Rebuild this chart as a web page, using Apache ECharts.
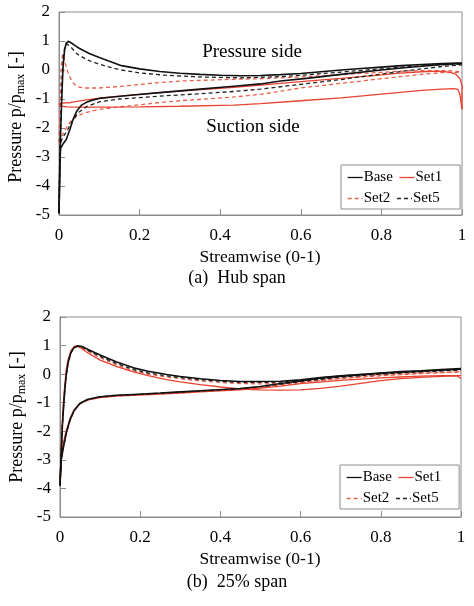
<!DOCTYPE html>
<html>
<head>
<meta charset="utf-8">
<script src="https://cdn.jsdelivr.net/npm/echarts@6/dist/echarts.min.js"></script>
<style>
  html, body { margin: 0; padding: 0; background: #fff; }
  #chart { width: 474px; height: 606px; }
</style>
</head>
<body>
<div id="chart"></div>
<script>
// axis ticks
const xTicks = [0, 0.2, 0.4, 0.6, 0.8, 1]
const yTicks = [-5, -4, -3, -2, -1, 0, 1, 2]
const seriesNames = ["Base", "Set1", "Set2", "Set5"]

// (a) Hub span: [streamwise, p/pmax], pressure side (ps) and suction side (ss)
const hubBasePs = [[0,-4.95],[0.002,-3.6],[0.004,-2.2],[0.007,-0.9],[0.01,0.1],[0.014,0.7],[0.018,0.93],[0.023,0.99],[0.03,0.94],[0.04,0.84],[0.05,0.75],[0.075,0.57],[0.1,0.43],[0.13,0.28],[0.155,0.15],[0.2,0.04],[0.25,-0.05],[0.3,-0.11],[0.35,-0.15],[0.4,-0.18],[0.45,-0.2],[0.5,-0.19],[0.55,-0.16],[0.6,-0.12],[0.65,-0.06],[0.7,0.0],[0.75,0.05],[0.8,0.1],[0.85,0.15],[0.9,0.19],[0.95,0.22],[0.99,0.24],[1,0.23]]
const hubBaseSs = [[0,-4.95],[0.002,-3.2],[0.004,-2.7],[0.01,-2.55],[0.018,-2.4],[0.027,-2.05],[0.035,-1.7],[0.044,-1.42],[0.055,-1.22],[0.07,-1.1],[0.085,-1.03],[0.1,-0.98],[0.14,-0.92],[0.184,-0.86],[0.25,-0.78],[0.3,-0.72],[0.35,-0.66],[0.434,-0.56],[0.5,-0.48],[0.55,-0.38],[0.62,-0.28],[0.7,-0.15],[0.8,0.0],[0.85,0.07],[0.9,0.13],[0.95,0.19],[1,0.23]]
const hubSet1Ps = [[0,-1.15],[0.01,-1.14],[0.03,-1.12],[0.06,-1.05],[0.1,-0.97],[0.15,-0.9],[0.2,-0.84],[0.25,-0.78],[0.3,-0.73],[0.434,-0.6],[0.5,-0.52],[0.6,-0.4],[0.7,-0.29],[0.8,-0.17],[0.846,-0.11],[0.9,-0.06],[0.94,-0.04],[0.97,-0.07],[0.985,-0.15],[0.995,-0.3],[1,-0.55],[1,-1.35]]
const hubSet1Ss = [[0,-1.15],[0.002,-1.24],[0.02,-1.27],[0.05,-1.28],[0.1,-1.28],[0.2,-1.27],[0.3,-1.25],[0.434,-1.21],[0.5,-1.16],[0.6,-1.06],[0.7,-0.96],[0.8,-0.83],[0.846,-0.77],[0.9,-0.7],[0.95,-0.66],[0.98,-0.64],[0.99,-0.67],[0.995,-0.85],[1,-1.35]]
const hubSet2Ps = [[0,-2.5],[0.003,-1.0],[0.006,0.2],[0.009,0.55],[0.012,0.45],[0.018,0.1],[0.025,-0.2],[0.035,-0.45],[0.045,-0.57],[0.06,-0.62],[0.1,-0.62],[0.15,-0.57],[0.2,-0.5],[0.25,-0.43],[0.3,-0.38],[0.434,-0.32],[0.5,-0.3],[0.6,-0.24],[0.7,-0.16],[0.8,-0.08],[0.85,-0.04],[0.9,-0.02],[0.95,-0.02],[0.98,-0.03],[1,-0.08]]
const hubSet2Ss = [[0,-2.5],[0.004,-2.35],[0.01,-2.2],[0.02,-1.95],[0.03,-1.75],[0.044,-1.6],[0.06,-1.5],[0.08,-1.42],[0.1,-1.36],[0.15,-1.27],[0.2,-1.2],[0.25,-1.12],[0.3,-1.06],[0.434,-0.93],[0.5,-0.84],[0.6,-0.62],[0.7,-0.46],[0.8,-0.3],[0.846,-0.23],[0.9,-0.15],[0.95,-0.09],[1,-0.08]]
const hubSet5Ps = [[0,-4.9],[0.002,-2.8],[0.005,-1.5],[0.008,-0.3],[0.011,0.5],[0.015,0.85],[0.02,0.9],[0.03,0.78],[0.045,0.55],[0.073,0.33],[0.1,0.2],[0.13,0.08],[0.155,0.0],[0.2,-0.1],[0.263,-0.18],[0.35,-0.24],[0.45,-0.27],[0.55,-0.23],[0.62,-0.16],[0.7,-0.07],[0.8,0.04],[0.85,0.1],[0.9,0.14],[0.95,0.18],[1,0.2]]
const hubSet5Ss = [[0,-4.9],[0.003,-2.6],[0.008,-2.35],[0.02,-2.1],[0.035,-1.7],[0.05,-1.45],[0.07,-1.25],[0.1,-1.1],[0.15,-1.0],[0.2,-0.95],[0.25,-0.9],[0.35,-0.82],[0.434,-0.74],[0.5,-0.66],[0.62,-0.46],[0.7,-0.33],[0.8,-0.14],[0.85,-0.05],[0.9,0.04],[0.95,0.12],[1,0.18]]

// (b) 25% span
const s25BasePs = [[0,-3.9],[0.003,-2.8],[0.006,-1.8],[0.01,-0.9],[0.015,-0.1],[0.02,0.4],[0.027,0.75],[0.035,0.93],[0.045,0.99],[0.055,0.97],[0.07,0.86],[0.1,0.67],[0.14,0.43],[0.183,0.22],[0.22,0.1],[0.266,-0.01],[0.3,-0.08],[0.35,-0.16],[0.4,-0.22],[0.449,-0.26],[0.5,-0.26],[0.55,-0.25],[0.6,-0.2],[0.65,-0.12],[0.7,-0.06],[0.765,0.0],[0.8,0.04],[0.85,0.09],[0.9,0.12],[0.95,0.16],[1,0.2]]
const s25BaseSs = [[0,-3.9],[0.003,-3.0],[0.008,-2.6],[0.015,-2.1],[0.025,-1.6],[0.035,-1.28],[0.05,-1.02],[0.07,-0.88],[0.1,-0.79],[0.14,-0.74],[0.183,-0.71],[0.25,-0.66],[0.3,-0.62],[0.35,-0.58],[0.449,-0.5],[0.5,-0.43],[0.55,-0.33],[0.6,-0.24],[0.65,-0.14],[0.7,-0.07],[0.8,0.03],[0.9,0.1],[1,0.17]]
const s25Set1Ps = [[0,-3.8],[0.003,-2.7],[0.006,-1.6],[0.01,-0.7],[0.015,0.1],[0.02,0.5],[0.028,0.84],[0.036,0.97],[0.042,0.99],[0.05,0.93],[0.07,0.74],[0.1,0.49],[0.14,0.27],[0.183,0.08],[0.22,-0.05],[0.266,-0.19],[0.3,-0.27],[0.35,-0.37],[0.4,-0.45],[0.449,-0.52],[0.5,-0.55],[0.55,-0.56],[0.6,-0.55],[0.65,-0.5],[0.7,-0.42],[0.75,-0.32],[0.8,-0.23],[0.85,-0.16],[0.9,-0.11],[0.95,-0.08],[0.99,-0.06],[1,-0.15]]
const s25Set1Ss = [[0,-3.8],[0.003,-3.0],[0.007,-2.5],[0.015,-2.0],[0.025,-1.55],[0.035,-1.25],[0.05,-1.02],[0.07,-0.9],[0.1,-0.82],[0.14,-0.77],[0.183,-0.74],[0.25,-0.7],[0.3,-0.66],[0.35,-0.62],[0.449,-0.55],[0.5,-0.49],[0.55,-0.42],[0.6,-0.33],[0.7,-0.22],[0.8,-0.13],[0.848,-0.1],[0.9,-0.07],[0.95,-0.05],[1,-0.05]]
const s25Set2Ps = [[0,-3.85],[0.003,-2.75],[0.006,-1.7],[0.01,-0.8],[0.015,0.0],[0.02,0.45],[0.027,0.78],[0.035,0.94],[0.042,0.98],[0.05,0.95],[0.07,0.8],[0.1,0.58],[0.14,0.33],[0.183,0.12],[0.22,0.0],[0.266,-0.1],[0.3,-0.16],[0.35,-0.24],[0.4,-0.29],[0.449,-0.33],[0.5,-0.34],[0.55,-0.33],[0.6,-0.28],[0.65,-0.22],[0.7,-0.16],[0.8,-0.06],[0.9,0.02],[0.95,0.05],[1,0.08]]
const s25Set2Ss = [[0,-3.85],[0.003,-3.0],[0.008,-2.6],[0.015,-2.1],[0.025,-1.6],[0.035,-1.28],[0.05,-1.04],[0.07,-0.9],[0.1,-0.81],[0.14,-0.76],[0.183,-0.72],[0.25,-0.68],[0.3,-0.64],[0.35,-0.6],[0.449,-0.52],[0.5,-0.46],[0.55,-0.38],[0.6,-0.3],[0.7,-0.14],[0.8,-0.03],[0.9,0.04],[1,0.08]]
const s25Set5Ps = [[0,-3.9],[0.003,-2.8],[0.006,-1.8],[0.01,-0.9],[0.015,-0.1],[0.02,0.4],[0.027,0.75],[0.035,0.92],[0.045,0.98],[0.055,0.95],[0.07,0.83],[0.1,0.62],[0.14,0.38],[0.183,0.16],[0.22,0.04],[0.266,-0.06],[0.3,-0.12],[0.35,-0.2],[0.4,-0.25],[0.449,-0.29],[0.5,-0.29],[0.55,-0.28],[0.6,-0.23],[0.65,-0.16],[0.7,-0.1],[0.8,0.0],[0.9,0.09],[0.95,0.12],[1,0.16]]
const s25Set5Ss = [[0,-3.9],[0.003,-3.0],[0.008,-2.6],[0.015,-2.1],[0.025,-1.6],[0.035,-1.28],[0.05,-1.02],[0.07,-0.88],[0.1,-0.8],[0.14,-0.75],[0.183,-0.72],[0.25,-0.67],[0.3,-0.63],[0.35,-0.59],[0.449,-0.51],[0.5,-0.44],[0.55,-0.35],[0.6,-0.26],[0.7,-0.1],[0.8,0.01],[0.9,0.08],[1,0.15]]

const serif = "'Liberation Serif', 'Times New Roman', serif"
const axisGrey = "#8c8c8c"

const lineStyles = {
  Base: { color: "#111111", width: 1.6, type: "solid" },
  Set1: { color: "#e8412f", width: 1.3, type: "solid" },
  Set2: { color: "#e8604c", width: 1.3, type: [4, 3] },
  Set5: { color: "#222222", width: 1.3, type: [4, 3] }
}

// draw order: red under black
const panels = [
  { Set2: [hubSet2Ps, hubSet2Ss], Set1: [hubSet1Ps, hubSet1Ss], Set5: [hubSet5Ps, hubSet5Ss], Base: [hubBasePs, hubBaseSs] },
  { Set2: [s25Set2Ps, s25Set2Ss], Set1: [s25Set1Ps, s25Set1Ss], Set5: [s25Set5Ps, s25Set5Ss], Base: [s25BasePs, s25BaseSs] }
]

const series = []
panels.forEach((panel, idx) => {
  Object.keys(panel).forEach(name => {
    panel[name].forEach(side => {
      series.push({
        name,
        type: "line",
        xAxisIndex: idx,
        yAxisIndex: idx,
        data: side,
        showSymbol: false,
        symbol: "none",
        smooth: false,
        animation: false,
        color: lineStyles[name].color,
        lineStyle: lineStyles[name]
      })
    })
  })
})

const grids = [
  { left: 59, top: 12, width: 403, height: 203 },
  { left: 60, top: 317, width: 401, height: 200 }
]

const makeX = idx => ({
  type: "value",
  gridIndex: idx,
  min: xTicks[0],
  max: xTicks[xTicks.length - 1],
  interval: 0.2,
  axisLine: { onZero: false, lineStyle: { color: axisGrey } },
  axisTick: { inside: true, length: 6, lineStyle: { color: axisGrey } },
  axisLabel: { margin: 12, color: "#000", fontFamily: serif, fontSize: 17 },
  splitLine: { show: false }
})

const makeY = idx => ({
  type: "value",
  gridIndex: idx,
  min: yTicks[0],
  max: yTicks[yTicks.length - 1],
  interval: 1,
  axisLine: { show: true, onZero: false, lineStyle: { color: axisGrey } },
  axisTick: { show: true, inside: true, length: 6, lineStyle: { color: axisGrey } },
  axisLabel: { margin: 9, color: "#000", fontFamily: serif, fontSize: 17 },
  splitLine: { show: false }
})

// legend: plain line samples, no marker
const makeLegend = (top, right) => ({
  data: seriesNames,
  left: right - 121,
  top,
  width: 104,
  orient: "horizontal",
  itemWidth: 15,
  itemHeight: 14,
  itemGap: 6,
  padding: [5, 18, 3, 6],
  backgroundColor: "#fff",
  borderColor: axisGrey,
  borderWidth: 1,
  borderRadius: 0,
  selectedMode: false,
  itemStyle: { opacity: 0 },
  lineStyle: { width: 1.3 },
  textStyle: { fontFamily: serif, fontSize: 15, color: "#000", padding: [0, 0, 0, -4] }
})

const text = (x, y, str, size, extra) => ({
  type: "text",
  x, y,
  style: Object.assign({ text: str, fontFamily: serif, fontSize: size, fill: "#000", align: "center", verticalAlign: "middle" }, extra || {})
})

const yName = (x, y) => ({
  type: "text",
  x, y,
  rotation: Math.PI / 2,
  style: {
    text: "{a|Pressure p/p}{b|max}{a| [-]}",
    align: "center",
    verticalAlign: "middle",
    rich: {
      a: { fontFamily: serif, fontSize: 18, fill: "#000", lineHeight: 22, verticalAlign: "middle" },
      b: { fontFamily: serif, fontSize: 12, fill: "#000", lineHeight: 12, verticalAlign: "bottom" }
    }
  }
})

const chart = echarts.init(document.getElementById("chart"))
chart.setOption({
  backgroundColor: "#fff",
  animation: false,
  grid: grids.map(g => Object.assign({ show: true, borderColor: axisGrey, borderWidth: 1, backgroundColor: "transparent" }, g)),
  xAxis: [makeX(0), makeX(1)],
  yAxis: [makeY(0), makeY(1)],
  legend: [makeLegend(165, 462), makeLegend(465, 461)],
  series,
  graphic: [
    yName(16, 117),
    yName(17, 417),
    text(252, 52, "Pressure side", 19),
    text(253, 127, "Suction side", 19),
    text(260, 257, "Streamwise (0-1)", 17.5),
    text(260, 559, "Streamwise (0-1)", 17.5),
    text(237, 278, "(a)  Hub span", 18),
    text(237, 582, "(b)  25% span", 18)
  ]
})
</script>
</body>
</html>
